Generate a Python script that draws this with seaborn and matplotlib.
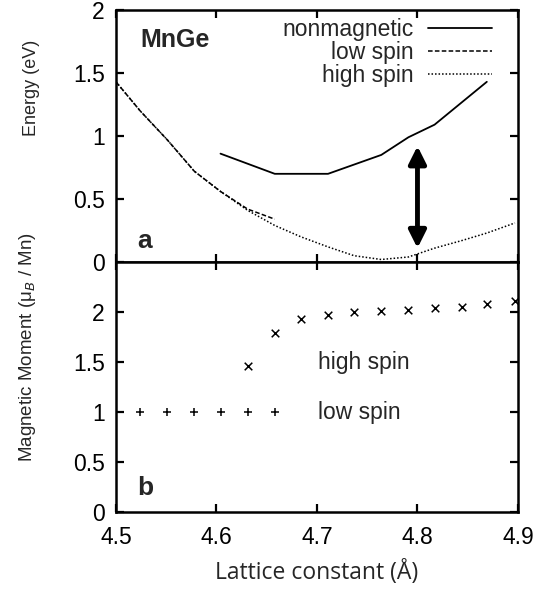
import numpy as np
import pandas as pd
import matplotlib
matplotlib.use("Agg")
import matplotlib.pyplot as plt
import seaborn as sns

sns.set_theme(style="ticks")
plt.rcParams["font.family"] = ["Liberation Sans", "DejaVu Sans"]

# --- data ---
nm_a = [4.604, 4.658, 4.711, 4.764, 4.791, 4.817, 4.869]
nm_e = [0.86, 0.70, 0.70, 0.85, 0.99, 1.09, 1.43]

ls_a = [4.500, 4.524, 4.551, 4.578, 4.604, 4.631, 4.658]
ls_e = [1.43, 1.20, 0.97, 0.72, 0.56, 0.42, 0.34]

hs_a = [4.500, 4.524, 4.551, 4.578, 4.604, 4.631, 4.658, 4.684, 4.711,
        4.737, 4.764, 4.791, 4.817, 4.844, 4.869, 4.897]
hs_e = [1.43, 1.20, 0.97, 0.72, 0.56, 0.41, 0.29, 0.20, 0.12,
        0.05, 0.02, 0.04, 0.11, 0.17, 0.23, 0.31]

mom_low_a = [4.524, 4.551, 4.578, 4.604, 4.631, 4.658]
mom_low = [1.0, 1.0, 1.0, 1.0, 1.0, 1.0]

mom_high_a = [4.631, 4.658, 4.684, 4.711, 4.737, 4.764, 4.791, 4.817,
              4.844, 4.869, 4.897]
mom_high = [1.46, 1.79, 1.93, 1.97, 2.00, 2.01, 2.02, 2.04, 2.05, 2.08, 2.11]

fig = plt.figure(figsize=(5.4, 5.92), dpi=100)
ax1 = fig.add_axes([0.2148, 0.5574, 0.7444, 0.4257])
ax2 = fig.add_axes([0.2148, 0.1351, 0.7444, 0.4223])

# (a) energies
sns.lineplot(x=nm_a, y=nm_e, ax=ax1, color="black", lw=1.3, label="nonmagnetic")
sns.lineplot(x=ls_a, y=ls_e, ax=ax1, color="black", lw=1.1, label="low spin",
             linestyle=(0, (3, 1.5)))
sns.lineplot(x=hs_a, y=hs_e, ax=ax1, color="black", lw=1.1, label="high spin",
             linestyle=(0, (1, 1.3)))
ax1.annotate("", xy=(4.80, 0.11), xytext=(4.80, 0.92),
             arrowprops=dict(arrowstyle="<|-|>", color="black", lw=3.5,
                             mutation_scale=26, shrinkA=0, shrinkB=0))
ax1.text(4.524, 1.76, "MnGe", fontsize=18, fontweight="bold", va="center")
ax1.text(4.521, 0.17, "a", fontsize=19, fontweight="bold", va="center")
ax1.legend(loc="upper right", frameon=False, markerfirst=False, fontsize=16.5,
           handlelength=2.8, labelspacing=0.0, borderaxespad=0.0,
           handletextpad=0.6, borderpad=0.35, bbox_to_anchor=(0.955, 1.0))
ax1.set_xlim(4.5, 4.9)
ax1.set_ylim(0, 2)
ax1.set_yticks([0, 0.5, 1, 1.5, 2])
ax1.set_yticklabels(["0", "0.5", "1", "1.5", "2"])
ax1.set_xticks([4.5, 4.6, 4.7, 4.8, 4.9])
ax1.tick_params(labelbottom=False)
ax1.set_ylabel("Energy (eV)", fontsize=13)
ax1.yaxis.set_label_coords(-0.19, 0.69)

# (b) moments
sns.scatterplot(x=mom_high_a, y=mom_high, ax=ax2, marker="x", color="black",
                s=30, linewidth=1.1)
sns.scatterplot(x=mom_low_a, y=mom_low, ax=ax2, marker="+", color="black",
                s=32, linewidth=1.1)
ax2.text(4.701, 1.5, "high spin", fontsize=16.5, va="center")
ax2.text(4.701, 1.0, "low spin", fontsize=16.5, va="center")
ax2.text(4.521, 0.24, "b", fontsize=19, fontweight="bold", va="center")
ax2.set_xlim(4.5, 4.9)
ax2.set_ylim(0, 2.5)
ax2.set_yticks([0, 0.5, 1, 1.5, 2])
ax2.set_yticklabels(["0", "0.5", "1", "1.5", "2"])
ax2.set_xticks([4.5, 4.6, 4.7, 4.8, 4.9])
ax2.set_xticklabels(["4.5", "4.6", "4.7", "4.8", "4.9"])
ax2.set_ylabel("Magnetic Moment (μ$_B$ / Mn)", fontsize=13.5)
ax2.yaxis.set_label_coords(-0.195, 0.66)
ax2.set_xlabel("Lattice constant (Å)", family=["Open Sans", "DejaVu Sans"],
               fontsize=16.5, labelpad=8)

for ax in (ax1, ax2):
    for sp in ax.spines.values():
        sp.set_visible(True)
        sp.set_linewidth(1.8)
        sp.set_color("black")
    ax.tick_params(direction="in", length=6, width=1.6, top=True, right=True,
                   labelsize=16.5, colors="black")
    ax.tick_params(axis="y", pad=8)
    ax.tick_params(axis="x", pad=10)

fig.savefig("out.png", dpi=100)
